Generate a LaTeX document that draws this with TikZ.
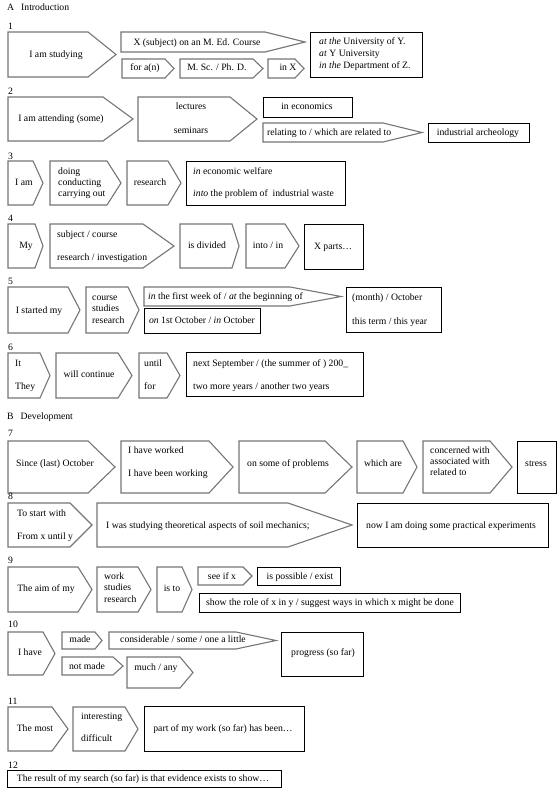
\documentclass[tikz,border=0pt]{standalone}
\usepackage{fontspec}
\setmainfont{Liberation Serif}
\definecolor{pg}{RGB}{118,118,118}
\newcommand{\pentshp}[5]{\draw[pentline] (#1,#2) -- (#3,#2) -- (#4,{(#2+#5)/2}) -- (#3,#5) -- (#1,#5) -- cycle;}
\newcommand{\rectshp}[4]{\draw[boxline] (#1,#2) rectangle (#3,#4);}
\tikzset{
  pentline/.style={draw=pg, line width=1.1pt, line join=miter},
  boxline/.style={draw=black, line width=0.9pt},
  txt/.style={inner sep=0pt, font=\fontsize{9.7}{12}\selectfont, text height=7pt, text depth=2pt},
  lt/.style={txt, anchor=west},
}
\begin{document}
\begin{tikzpicture}[x=1pt,y=-1pt]
\useasboundingbox[fill=white] (0,0) rectangle (559,797);
% ---------- A
\node[lt] (secA) at (7,8) {A\hspace{7pt}Introduction};
% row 1
\node[lt] (n1) at (8,27) {1};
\pentshp{8}{32}{88}{116}{77}
\node[txt] (r1a) at (56,55) {I am studying};
\pentshp{121}{32}{265}{305}{52}
\node[txt] (r1b) at (197,43) {X (subject) on an M. Ed. Course};
\pentshp{122}{59}{165}{174}{78}
\node[txt] (r1c) at (145,68) {for a(n)};
\pentshp{180}{59}{253}{263}{78}
\node[txt] (r1d) at (217,68) {M. Sc. / Ph. D.};
\pentshp{268}{59}{295}{304}{78}
\node[txt] (r1e) at (288,68) {in X};
\rectshp{310}{32}{422}{77}
\node[lt] (r1f1) at (319,42) {\textit{at the} University of Y.};
\node[lt] (r1f2) at (319,54) {\textit{at} Y University};
\node[lt] (r1f3) at (319,66) {\textit{in the} Department of Z.};
% row 2
\node[lt] (n2) at (8,92) {2};
\pentshp{8}{97}{103}{133}{141}
\node[txt] (r2a) at (61,119) {I am attending (some)};
\pentshp{138}{97}{230}{257}{141}
\node[txt] (r2b1) at (191,107) {lectures};
\node[txt] (r2b2) at (191,131) {seminars};
\rectshp{263}{97}{352}{117}
\node[txt] (r2c) at (307,107) {in economics};
\pentshp{263}{123}{383}{422}{142}
\node[lt] (r2d) at (267,133) {relating to / which are related to};
\rectshp{428}{123}{529}{142}
\node[txt] (r2e) at (478,133) {industrial archeology};
% row 3
\node[lt] (n3) at (8,157) {3};
\pentshp{8}{161}{33}{43}{205}
\node[txt] (r3a) at (24,183) {I am};
\pentshp{50}{161}{107}{121}{205}
\node[lt] (r3b1) at (58,172) {doing};
\node[lt] (r3b2) at (58,183) {conducting};
\node[lt] (r3b3) at (58,194) {carrying out};
\pentshp{127}{161}{168}{181}{205}
\node[txt] (r3c) at (150,183) {research};
\rectshp{186}{161}{345}{205}
\node[lt] (r3d1) at (193,172) {\textit{in} economic welfare};
\node[lt] (r3d2) at (193,194) {\textit{into} the problem of \ industrial waste};
% row 4
\node[lt] (n4) at (8,219) {4};
\pentshp{8}{224}{35}{43}{268}
\node[txt] (r4a) at (26,246) {My};
\pentshp{50}{224}{143}{174}{268}
\node[lt] (r4b1) at (57,235) {subject / course};
\node[lt] (r4b2) at (57,258) {research / investigation};
\pentshp{180}{224}{232}{239}{268}
\node[txt] (r4c) at (207,246) {is divided};
\pentshp{246}{224}{285}{299}{268}
\node[txt] (r4d) at (268,246) {into / in};
\rectshp{304}{224}{363}{269}
\node[txt] (r4e) at (333,247) {X parts…};
% row 5
\node[lt] (n5) at (8,282) {5};
\pentshp{8}{287}{68}{80}{333}
\node[txt] (r5a) at (39,311) {I started my};
\pentshp{86}{287}{128}{139}{333}
\node[lt] (r5b1) at (92,298) {course};
\node[lt] (r5b2) at (92,309) {studies};
\node[lt] (r5b3) at (92,321) {research};
\pentshp{144}{287}{290}{341}{306}
\node[lt] (r5c) at (148,297) {\textit{in} the first week of / \textit{at} the beginning of};
\rectshp{144}{308}{260}{333}
\node[txt] (r5d) at (202,321) {\textit{on} 1st October / \textit{in} October};
\rectshp{346}{287}{441}{332}
\node[lt] (r5e1) at (352,298) {(month) / October};
\node[lt] (r5e2) at (352,322) {this term / this year};
% row 6
\node[lt] (n6) at (8,348) {6};
\pentshp{8}{353}{40}{50}{398}
\node[lt] (r6a1) at (15,364) {It};
\node[lt] (r6a2) at (15,387) {They};
\pentshp{56}{353}{118}{132}{398}
\node[txt] (r6b) at (89,375) {will continue};
\pentshp{139}{353}{167}{180}{398}
\node[lt] (r6c1) at (144,364) {until};
\node[lt] (r6c2) at (144,387) {for};
\rectshp{186}{352}{363}{396}
\node[lt] (r6d1) at (193,364) {next September / (the summer of ) 200\_};
\node[lt] (r6d2) at (193,387) {two more years / another two years};
% ---------- B
\node[lt] (secB) at (7,417) {B\hspace{7pt}Development};
% row 7
\node[lt] (n7) at (8,434) {7};
\pentshp{8}{441}{88}{115}{493}
\node[txt] (r7a) at (55,464) {Since (last) October};
\pentshp{121}{441}{209}{233}{493}
\node[lt] (r7b1) at (128,451) {I have worked};
\node[lt] (r7b2) at (128,474) {I have been working};
\pentshp{239}{441}{325}{352}{493}
\node[txt] (r7c) at (288,464) {on some of problems};
\pentshp{357}{441}{403}{417}{493}
\node[txt] (r7d) at (383,464) {which are};
\pentshp{423}{441}{490}{512}{493}
\node[lt] (r7e1) at (430,451) {concerned with};
\node[lt] (r7e2) at (430,462) {associated with};
\node[lt] (r7e3) at (430,473) {related to};
\rectshp{517}{441}{556}{493}
\node[txt] (r7f) at (536,464) {stress};
% row 8
\node[lt] (n8) at (8,497) {8};
\pentshp{8}{503}{70}{92}{547}
\node[lt] (r8a1) at (17,514) {To start with};
\node[lt] (r8a2) at (17,537) {From x until y};
\pentshp{97}{503}{288}{352}{547}
\node[lt] (r8b) at (106,526) {I was studying theoretical aspects of soil mechanics;};
\rectshp{357}{503}{548}{547}
\node[txt] (r8c) at (451,526) {now I am doing some practical experiments};
% row 9
\node[lt] (n9) at (8,561) {9};
\pentshp{8}{567}{78}{92}{612}
\node[txt] (r9a) at (46,589) {The aim of my};
\pentshp{97}{567}{138}{151}{612}
\node[lt] (r9b1) at (104,577) {work};
\node[lt] (r9b2) at (104,588) {studies};
\node[lt] (r9b3) at (104,600) {research};
\pentshp{157}{567}{182}{192}{612}
\node[txt] (r9c) at (172,589) {is to};
\pentshp{198}{567}{243}{252}{585}
\node[txt] (r9d) at (222,577) {see if x};
\rectshp{257}{567}{340}{585}
\node[txt] (r9e) at (300,577) {is possible / exist};
\rectshp{199}{593}{460}{612}
\node[lt] (r9f) at (206,603) {show the role of x in y / suggest ways in which x might be done};
% row 10
\node[lt] (n10) at (8,625) {10};
\pentshp{8}{632}{43}{55}{675}
\node[txt] (r10a) at (30,653) {I have};
\pentshp{62}{632}{95}{102}{649}
\node[txt] (r10b) at (80,640) {made};
\pentshp{109}{632}{236}{276}{649}
\node[txt] (r10c) at (183,640) {considerable / some / one a little};
\pentshp{62}{657}{113}{123}{675}
\node[txt] (r10d) at (87,667) {not made};
\pentshp{127}{657}{180}{193}{688}
\node[txt] (r10e) at (156,668) {much / any};
\rectshp{281}{632}{363}{676}
\node[txt] (r10f) at (323,653) {progress (so far)};
% row 11
\node[lt] (n11) at (8,702) {11};
\pentshp{8}{707}{52}{68}{751}
\node[txt] (r11a) at (35,729) {The most};
\pentshp{73}{707}{125}{138}{751}
\node[lt] (r11b1) at (81,717) {interesting};
\node[lt] (r11b2) at (81,739) {difficult};
\rectshp{144}{706}{304}{751}
\node[txt] (r11c) at (223,729) {part of my work (so far) has been…};
% row 12
\node[lt] (n12) at (8,766) {12};
\rectshp{7}{770}{281}{787}
\node[txt] (r12a) at (143,779) {The result of my search (so far) is that evidence exists to show…};
\end{tikzpicture}
\end{document}
